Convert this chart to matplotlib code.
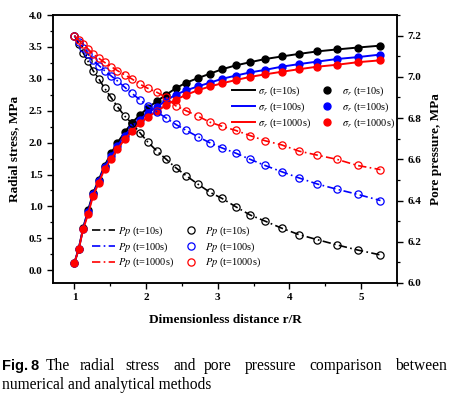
import numpy as np
import matplotlib
matplotlib.use("Agg")
import matplotlib.pyplot as plt
from matplotlib.ticker import MultipleLocator, FormatStrFormatter

plt.rcParams['font.family'] = 'Liberation Serif'
plt.rcParams['mathtext.fontset'] = 'stix'

# dimensionless distance r/R (shared by all series)
r = [1.00, 1.06, 1.12, 1.19, 1.26, 1.34, 1.42, 1.51, 1.60, 1.70, 1.80, 1.91, 2.02, 2.15,
     2.28, 2.41, 2.56, 2.72, 2.89, 3.06, 3.25, 3.45, 3.66, 3.89, 4.13, 4.39, 4.66, 4.95, 5.27]

# radial stress, MPa
sr_10 = [0.12, 0.34, 0.66, 0.94, 1.21, 1.42, 1.64, 1.83, 2.00, 2.16, 2.31, 2.43, 2.54, 2.65,
         2.75, 2.85, 2.94, 3.01, 3.08, 3.15, 3.21, 3.26, 3.31, 3.35, 3.39, 3.43, 3.46, 3.49, 3.52]
sr_100 = [0.12, 0.34, 0.65, 0.92, 1.19, 1.40, 1.62, 1.79, 1.95, 2.11, 2.24, 2.36, 2.46, 2.56,
          2.66, 2.75, 2.82, 2.88, 2.94, 3.00, 3.05, 3.10, 3.14, 3.19, 3.23, 3.27, 3.31, 3.34, 3.38]
sr_1000 = [0.12, 0.33, 0.64, 0.88, 1.17, 1.37, 1.59, 1.74, 1.90, 2.05, 2.18, 2.30, 2.40, 2.49,
           2.59, 2.67, 2.75, 2.82, 2.88, 2.93, 2.98, 3.03, 3.07, 3.11, 3.15, 3.19, 3.22, 3.26, 3.29]

# pore pressure, MPa
pp_10 = [7.20, 7.16, 7.117, 7.075, 7.03, 6.99, 6.945, 6.90, 6.855, 6.81, 6.775, 6.73, 6.685, 6.64,
         6.60, 6.56, 6.52, 6.48, 6.44, 6.41, 6.37, 6.33, 6.30, 6.266, 6.235, 6.21, 6.185, 6.16, 6.136]
pp_100 = [7.20, 7.17, 7.14, 7.11, 7.08, 7.055, 7.03, 7.005, 6.98, 6.95, 6.92, 6.89, 6.86, 6.83,
          6.80, 6.77, 6.74, 6.71, 6.68, 6.655, 6.63, 6.60, 6.57, 6.54, 6.51, 6.48, 6.455, 6.43, 6.40]
pp_1000 = [7.20, 7.178, 7.157, 7.135, 7.11, 7.09, 7.07, 7.05, 7.03, 7.01, 6.99, 6.965, 6.945, 6.925,
           6.90, 6.86, 6.835, 6.81, 6.78, 6.76, 6.74, 6.715, 6.69, 6.67, 6.64, 6.62, 6.60, 6.57, 6.55]

times = ["10s", "100s", "1000s"]
colors = ["black", "#0000ff", "#ff0000"]

fig = plt.figure(figsize=(4.54, 3.97), dpi=100)
ax = fig.add_axes([0.1167, 0.2872, 0.7577, 0.675])
ax2 = ax.twinx()

lines_s, dots_s, lines_p, dots_p = [], [], [], []
for t, c, s, p in zip(times, colors, [sr_10, sr_100, sr_1000], [pp_10, pp_100, pp_1000]):
    l, = ax.plot(r, s, "-", c=c, lw=1.4, label=r"$\sigma_r$ (t=%s)" % t)
    d, = ax.plot(r, s, "o", c=c, ms=5, label=r"$\sigma_r$ (t=%s)" % t)
    lines_s.append(l); dots_s.append(d)
    l2, = ax2.plot(r, p, ls=(0, (5, 2, 1, 2)), c=c, lw=1.2, label=r"$Pp$ (t=%s)" % t)
    d2, = ax2.plot(r, p, "o", mfc="none", mec=c, mew=0.9, ms=5.2, label=r"$Pp$ (t=%s)" % t)
    lines_p.append(l2); dots_p.append(d2)

ax.set_xlim(0.7, 5.5)
ax.set_ylim(-0.2, 4.0)
ax2.set_ylim(6.0, 7.3)

ax.xaxis.set_major_locator(MultipleLocator(1))
ax.xaxis.set_minor_locator(MultipleLocator(0.5))
ax.yaxis.set_major_locator(MultipleLocator(0.5))
ax.yaxis.set_minor_locator(MultipleLocator(0.25))
ax.yaxis.set_major_formatter(FormatStrFormatter("%.1f"))
ax2.yaxis.set_major_locator(MultipleLocator(0.2))
ax2.yaxis.set_minor_locator(MultipleLocator(0.1))
ax2.yaxis.set_major_formatter(FormatStrFormatter("%.1f"))

for a in (ax, ax2):
    for sp in a.spines.values():
        sp.set_linewidth(1.1)
ax.tick_params(axis="both", which="major", direction="out", length=4, width=1.0, labelsize=8)
ax.tick_params(axis="both", which="minor", direction="out", length=2.5, width=0.9)
ax2.tick_params(axis="y", which="major", direction="out", length=4, width=1.0, labelsize=8)
ax2.tick_params(axis="y", which="minor", direction="out", length=2.5, width=0.9)
ax2.tick_params(axis="x", which="both", top=True, bottom=False, labeltop=False,
                labelbottom=False, direction="in", length=3, width=0.9)
ax2.xaxis.set_minor_locator(MultipleLocator(0.5))
for lab in ax.get_xticklabels() + ax.get_yticklabels() + ax2.get_yticklabels():
    lab.set_fontweight("bold")

ax.set_xlabel("Dimensionless distance r/R", fontsize=9.5, fontweight="bold", labelpad=8)
ax.set_ylabel("Radial stress, MPa", fontsize=9.5, fontweight="bold", labelpad=6)
ax2.set_ylabel("Pore pressure, MPa", fontsize=9.5, fontweight="bold", labelpad=6)

leg1 = ax2.legend(lines_s + dots_s, [h.get_label() for h in lines_s + dots_s], ncol=2,
                  loc="center", bbox_to_anchor=(0.757, 0.655), frameon=False, fontsize=7.5,
                  handlelength=2.2, handletextpad=0.3, columnspacing=0.5, labelspacing=0.25)
ax2.add_artist(leg1)
ax2.legend(lines_p + dots_p, [h.get_label() for h in lines_p + dots_p], ncol=2,
           loc="center", bbox_to_anchor=(0.36, 0.134), frameon=False, fontsize=7.5,
           handlelength=2.2, handletextpad=0.3, columnspacing=0.5, labelspacing=0.2)

# caption (justified first line)
words = ["The", "radial", "stress", "and", "pore", "pressure", "comparison", "between"]
xpos = [46, 80, 125, 173, 204, 245, 309, 395]
fig.text(2 / 454, 1 - 370 / 397, "Fig.\u20098", family="Liberation Sans", fontweight="bold",
         fontsize=10.5, va="baseline")
for w, xp in zip(words, xpos):
    fig.text(xp / 454, 1 - 370 / 397, w, fontsize=11.2, va="baseline")
fig.text(2 / 454, 1 - 389 / 397, "numerical and analytical methods", fontsize=11.2, va="baseline")

fig.savefig("out.png", dpi=100)
